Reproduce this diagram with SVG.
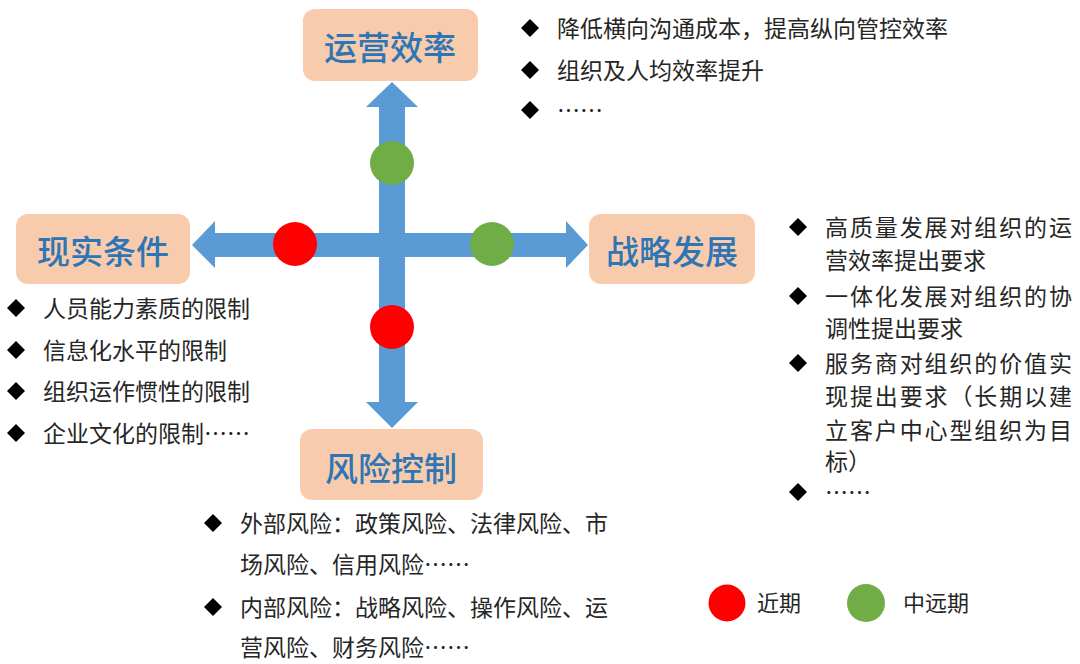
<svg xmlns="http://www.w3.org/2000/svg" xmlns:xlink="http://www.w3.org/1999/xlink" width="1080" height="664" viewBox="0 0 1080 664">
<style>
.box{fill:#F8CBAD;}
.lbl{font-family:"Noto Sans CJK SC","Noto Sans",sans-serif;font-size:33px;font-weight:500;fill:#2E75B6;text-anchor:middle;}
.txt{font-family:"Noto Sans CJK SC","Noto Sans",sans-serif;font-size:23px;fill:#262626;}
.arrow{fill:#5B9BD5;}
.near{fill:#FF0000;}
.far{fill:#70AD47;}
.dia{fill:#000;}
</style>
<defs>
<path id="d" d="M0,-9 L9,0 L0,9 L-9,0 Z"/>
</defs>
<rect width="1080" height="664" fill="#fff"/>
<g id="connectors">
<path class="arrow" d="M192,245 L215,221 L215,233 L566,233 L566,221 L588,245 L566,268 L566,257 L215,257 L215,268 Z"/>
<path class="arrow" d="M392,82 L418,107 L405,107 L405,402 L418,402 L392,428 L366,402 L379,402 L379,107 L366,107 Z"/>
</g>
<g id="markers">
<circle class="far" cx="392" cy="163" r="22"/>
<circle class="near" cx="295" cy="244" r="22"/>
<circle class="far" cx="492" cy="244" r="22"/>
<circle class="near" cx="392" cy="327" r="22"/>
</g>
<g id="node-top">
<rect class="box" x="303" y="9" width="175" height="72" rx="12"/>
<text class="lbl" x="390" y="60">运营效率</text>
<use href="#d" class="dia" x="530" y="28"/>
<use href="#d" class="dia" x="530" y="70"/>
<use href="#d" class="dia" x="530" y="110"/>
<text class="txt" x="557" y="37">降低横向沟通成本，提高纵向管控效率</text>
<text class="txt" x="557" y="79">组织及人均效率提升</text>
<text class="txt" x="557" y="119">……</text>
</g>
<g id="node-left">
<rect class="box" x="16" y="214" width="174" height="70" rx="12"/>
<text class="lbl" x="103" y="264">现实条件</text>
<use href="#d" class="dia" x="16" y="308"/>
<use href="#d" class="dia" x="16" y="350"/>
<use href="#d" class="dia" x="16" y="391"/>
<use href="#d" class="dia" x="16" y="433"/>
<text class="txt" x="43" y="317">人员能力素质的限制</text>
<text class="txt" x="43" y="359">信息化水平的限制</text>
<text class="txt" x="43" y="400">组织运作惯性的限制</text>
<text class="txt" x="43" y="442">企业文化的限制……</text>
</g>
<g id="node-right">
<rect class="box" x="589" y="214" width="166" height="70" rx="12"/>
<text class="lbl" x="672" y="264">战略发展</text>
<use href="#d" class="dia" x="798" y="227"/>
<use href="#d" class="dia" x="798" y="296"/>
<use href="#d" class="dia" x="798" y="363"/>
<use href="#d" class="dia" x="798" y="492"/>
<text class="txt" x="825" y="236" textLength="247" lengthAdjust="spacing">高质量发展对组织的运</text>
<text class="txt" x="825" y="269">营效率提出要求</text>
<text class="txt" x="825" y="305" textLength="247" lengthAdjust="spacing">一体化发展对组织的协</text>
<text class="txt" x="825" y="337">调性提出要求</text>
<text class="txt" x="825" y="372" textLength="247" lengthAdjust="spacing">服务商对组织的价值实</text>
<text class="txt" x="825" y="405" textLength="247" lengthAdjust="spacing">现提出要求（长期以建</text>
<text class="txt" x="825" y="439" textLength="247" lengthAdjust="spacing">立客户中心型组织为目</text>
<text class="txt" x="825" y="470">标）</text>
<text class="txt" x="825" y="501">……</text>
</g>
<g id="node-bottom">
<rect class="box" x="300" y="429" width="183" height="71" rx="12"/>
<text class="lbl" x="391" y="481">风险控制</text>
<use href="#d" class="dia" x="213" y="523"/>
<use href="#d" class="dia" x="213" y="607"/>
<text class="txt" x="240" y="532" textLength="368" lengthAdjust="spacing">外部风险：政策风险、法律风险、市</text>
<text class="txt" x="240" y="573">场风险、信用风险……</text>
<text class="txt" x="240" y="616" textLength="368" lengthAdjust="spacing">内部风险：战略风险、操作风险、运</text>
<text class="txt" x="240" y="656">营风险、财务风险……</text>
</g>
<g id="legend">
<circle class="near" cx="727" cy="603" r="18.5"/>
<text class="txt" x="757" y="611" style="font-size:22px">近期</text>
<circle class="far" cx="866" cy="603" r="19"/>
<text class="txt" x="903" y="611" style="font-size:22px">中远期</text>
</g>
</svg>
